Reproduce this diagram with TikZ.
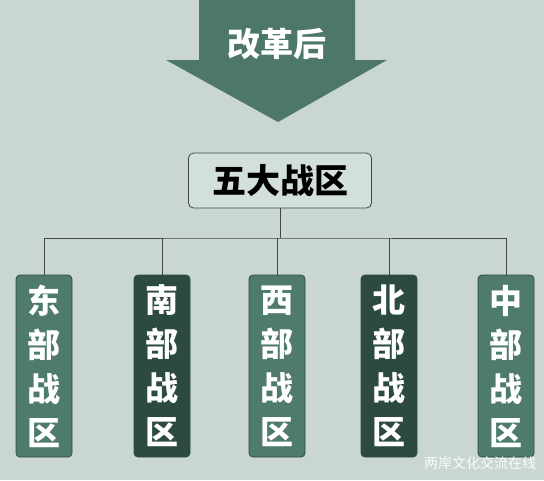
\documentclass[tikz,border=0pt]{standalone}
\usepackage{fontspec}
\newfontfamily\cjk{Noto Sans CJK SC}
\definecolor{bg}{HTML}{C9D7D0}
\definecolor{arrowc}{HTML}{4D7767}
\definecolor{midg}{HTML}{4E7B6B}
\definecolor{darkg}{HTML}{2C4A40}
\definecolor{linec}{HTML}{3F4944}
\definecolor{topfill}{HTML}{D3E0DA}
\tikzset{
  zonebox/.style={draw=darkg, line width=0.8pt, rounded corners=4pt,
    minimum width=56pt, minimum height=182pt, inner sep=0pt, text=white,
    align=center, font=\cjk\bfseries\fontsize{33}{44}\selectfont},
  lightzone/.style={zonebox, fill=midg},
  darkzone/.style={zonebox, fill=darkg},
  topbox/.style={draw=linec, line width=0.8pt, rounded corners=5pt, fill=topfill,
    minimum width=183pt, minimum height=55pt, inner sep=0pt, text=black,
    font=\cjk\bfseries\fontsize{34}{34}\selectfont},
  conn/.style={draw=linec, line width=1pt}
}
\begin{document}
\begin{tikzpicture}[x=1pt,y=-1pt]
\useasboundingbox (0,0) rectangle (544,480);
\fill[bg] (0,0) rectangle (544,480);
% arrow
\fill[arrowc] (199,0) -- (355,0) -- (355,60) -- (387,60) -- (278,122) -- (166,60) -- (199,60) -- cycle;
\node[font=\cjk\bfseries\fontsize{33}{33}\selectfont, text=white] (title) at (277,44) {改革后};
% top box
\node[topbox] (top) at (280,180.5) {五大战区};
% zone boxes
\node[lightzone] (b1) at (44,366) {东\\部\\战\\区};
\node[darkzone]  (b2) at (162,366) {南\\部\\战\\区};
\node[lightzone] (b3) at (277,366) {西\\部\\战\\区};
\node[darkzone]  (b4) at (389,366) {北\\部\\战\\区};
\node[lightzone] (b5) at (506,366) {中\\部\\战\\区};
% connectors
\coordinate (j) at (280,238);
\draw[conn] (top.south) -- (j);
\draw[conn] (b1.north) |- (j) -| (b5.north);
\draw[conn] (b2.north) -- (b2.north |- j);
\draw[conn] (b3.north) -- (b3.north |- j);
\draw[conn] (b4.north) -- (b4.north |- j);
% watermark
\node[font=\cjk\fontsize{14}{14}\selectfont, text=white!92!bg] (wm) at (480,463) {两岸文化交流在线};
\end{tikzpicture}
\end{document}
